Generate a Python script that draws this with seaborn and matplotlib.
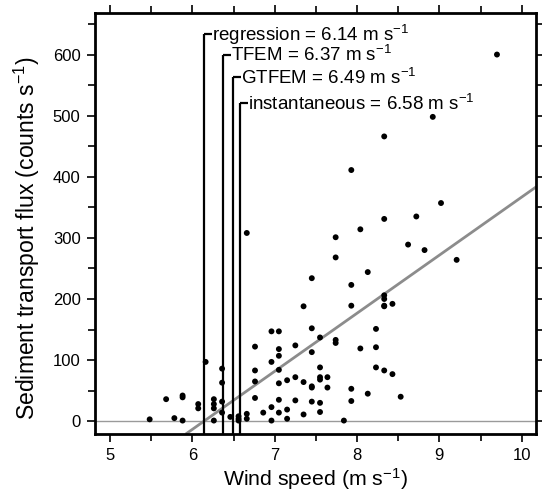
import matplotlib
matplotlib.use("Agg")
import matplotlib.pyplot as plt
from matplotlib.ticker import MultipleLocator
import numpy as np
import pandas as pd
import seaborn as sns

# ---- data ----
wind = [5.48, 5.68, 5.78, 5.88, 5.88, 5.88, 6.07, 6.07, 6.16,
        6.26, 6.26, 6.26, 6.26, 6.36, 6.36, 6.36, 6.36, 6.46,
        6.56, 6.56, 6.56, 6.66, 6.66, 6.66,
        6.76, 6.76, 6.76, 6.76, 6.86,
        6.96, 6.96, 6.96, 6.96,
        7.05, 7.05, 7.05, 7.05, 7.05, 7.05, 7.05,
        7.15, 7.15, 7.15,
        7.25, 7.25, 7.25,
        7.35, 7.35, 7.35,
        7.45, 7.45, 7.45, 7.45, 7.45, 7.45,
        7.55, 7.55, 7.55, 7.55, 7.55, 7.55,
        7.64, 7.64,
        7.74, 7.74, 7.74, 7.74,
        7.84,
        7.93, 7.93, 7.93, 7.93, 7.93,
        8.04, 8.04,
        8.13, 8.13,
        8.23, 8.23, 8.23,
        8.33, 8.33, 8.33, 8.33, 8.33, 8.33, 8.33,
        8.43, 8.43,
        8.53, 8.62, 8.72, 8.82, 8.92, 9.02, 9.21, 9.70]
flux = [3, 36, 5, 1, 42, 39, 28, 21, 97,
        36, 28, 21, 1, 86, 63, 32, 14, 7,
        8, 4, 1, 12, 4, 308,
        122, 83, 65, 38, 14,
        147, 97, 23, 1,
        147, 118, 107, 84, 62, 35, 14,
        67, 19, 4,
        124, 72, 34,
        188, 64, 11,
        234, 152, 113, 57, 55, 32,
        137, 88, 72, 68, 30, 15,
        72, 55,
        301, 268, 133, 128,
        1,
        411, 223, 189, 53, 33,
        314, 119,
        244, 45,
        151, 121, 88,
        466, 331, 206, 200, 189, 188, 83,
        192, 77,
        40, 289, 335, 280, 498, 357, 264, 600]

threshold_names = ["regression", "TFEM", "GTFEM", "instantaneous"]
threshold_values = [6.14, 6.37, 6.49, 6.58]

reg_x0 = 6.14      # regression x-intercept
reg_slope = 95.0   # counts s^-1 per m s^-1

x_ticks = [5, 6, 7, 8, 9, 10]
y_ticks = [0, 100, 200, 300, 400, 500, 600]

df = pd.DataFrame({"wind": wind, "flux": flux})

# ---- style ----
sns.set_style("ticks")
plt.rcParams["font.family"] = ["Liberation Sans", "DejaVu Sans"]
plt.rcParams["mathtext.fontset"] = "custom"
plt.rcParams["mathtext.rm"] = "Liberation Sans"
plt.rcParams["mathtext.default"] = "regular"
plt.rcParams["text.color"] = "black"
plt.rcParams["axes.labelcolor"] = "black"
plt.rcParams["xtick.color"] = "black"
plt.rcParams["ytick.color"] = "black"

fig = plt.figure(figsize=(5.42, 4.98), dpi=100)
ax = fig.add_axes([0.1744, 0.1285, 0.8154, 0.8454])

xlim = (4.81, 10.18)
ylim = (-21, 668)

# zero line
ax.axhline(0, color="#9a9a9a", lw=1.0, zorder=1)

# regression line
xr = np.array([reg_x0 + ylim[0] / reg_slope, xlim[1]])
ax.plot(xr, reg_slope * (xr - reg_x0), color="#8c8c8c", lw=2.0,
        solid_capstyle="butt", zorder=2)

# threshold markers
label_y = [634, 600, 563, 521]
for name, val, ly in zip(threshold_names, threshold_values, label_y):
    ax.plot([val, val], [ylim[0], ly], color="black", lw=1.6, zorder=3,
            solid_capstyle="butt")
    ax.plot([val, val + 0.095], [ly, ly], color="black", lw=1.6, zorder=3,
            solid_capstyle="butt")
    ax.annotate(f"{name} = {val:.2f} m s$^{{-1}}$", xy=(val + 0.1, ly),
                xytext=(0, -5), textcoords="offset points",
                fontsize=13.5, va="baseline", ha="left", zorder=4)

sns.scatterplot(data=df, x="wind", y="flux", ax=ax, color="black",
                s=18, edgecolor="none", linewidth=0, zorder=5, legend=False)

ax.set_xlim(*xlim)
ax.set_ylim(*ylim)
ax.set_xticks(x_ticks)
ax.set_yticks(y_ticks)
ax.xaxis.set_minor_locator(MultipleLocator(0.5))
ax.yaxis.set_minor_locator(MultipleLocator(50))

for s in ax.spines.values():
    s.set_visible(True)
    s.set_linewidth(2.0)
    s.set_color("black")

ax.tick_params(which="both", direction="out", top=True, right=True,
               width=1.2, color="black", labelsize=12, pad=4,
               labelcolor="black")
ax.tick_params(which="major", length=6)
ax.tick_params(which="minor", length=5)

ax.set_xlabel("Wind speed (m s$^{-1}$)", fontsize=15.3, labelpad=2)
ax.set_ylabel("Sediment transport flux (counts s$^{-1}$)", fontsize=16.6)
ax.yaxis.set_label_coords(-0.118, 0.465)

fig.savefig("out.png", dpi=100)
